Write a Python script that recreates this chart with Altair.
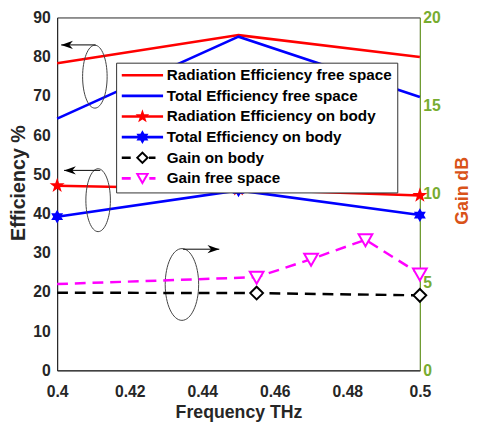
import math
import altair as alt
import pandas as pd

# ---------------- data ----------------
freq = [0.4, 0.45, 0.5]
rad_free = [78.3, 85.5, 79.9]
tot_free = [64.2, 85.1, 69.7]
rad_body = [47.1, 46.2, 44.6]
tot_body = [39.2, 45.9, 39.6]

gain_body_freq = [0.4, 0.455, 0.5]
gain_body = [4.4, 4.38, 4.25]
gain_body_marker = [False, True, True]

gain_free_freq = [0.4, 0.455, 0.47, 0.485, 0.5]
gain_free = [4.89, 5.28, 6.3, 7.4, 5.46]
gain_free_marker = [False, True, True, True, True]

series_names = [
    "Radiation Efficiency free space",
    "Total Efficiency free space",
    "Radiation Efficiency on body",
    "Total Efficiency on body",
    "Gain on body",
    "Gain free space",
]
series_colors = ["#FF0000", "#0000FF", "#FF0000", "#0000FF", "#000000", "#FF00FF"]

x_ticks = [0.4, 0.42, 0.44, 0.46, 0.48, 0.5]
eff_ticks = [0, 10, 20, 30, 40, 50, 60, 70, 80, 90]
gain_ticks = [0, 5, 10, 15, 20]

# annotations (ellipses + arrows), in data units
ell_freq = [0.4104, 0.4113, 0.4344]
ell_eff = [74.9, 43.4, 21.9]
ell_ratio = [0.39, 0.39, 0.466]
ell_height = [64, 64, 73]
arrow_eff = [83.0, 51.0, 30.9]
arrow_from = [0.4106, 0.4119, 0.4347]
arrow_to = [0.4011, 0.4019, 0.4447]
arrow_dir = ["left", "left", "right"]

# ---------------- shapes ----------------
def fmt(pts):
    return "M" + "L".join(f"{x:.3f},{y:.3f}" for x, y in pts) + "Z"

def star_pts(cx, R, r, n):
    pts = []
    for k in range(2 * n):
        a = math.radians(-90 + k * 180 / n)
        rr = R if k % 2 == 0 else r
        pts.append((cx + rr * math.cos(a), rr * math.sin(a)))
    return pts

def star(cx, R, r, n):
    return fmt(star_pts(cx, R, r, n))

def diamond(cx, h):
    return f"M{cx},{-h}L{cx+h},0L{cx},{h}L{cx-h},0Z"

def tri_down(cx, h):
    return f"M{cx-h},{-0.8*h}L{cx+h},{-0.8*h}L{cx},{0.95*h}Z"

def rect(x0, x1, t):
    return fmt([(x0, -t), (x1, -t), (x1, t), (x0, t)])

def diamond_ring(cx, h, w):
    outer = [(cx, -h), (cx + h, 0), (cx, h), (cx - h, 0)]
    hi = h - w * math.sqrt(2)
    inner = [(cx, -hi), (cx - hi, 0), (cx, hi), (cx + hi, 0)]
    return fmt(outer) + fmt(inner)

def tri_ring(cx, h, w):
    outer = [(cx - h, -0.8 * h), (cx + h, -0.8 * h), (cx, 0.95 * h)]
    side = math.hypot(h, 1.75 * h)
    area = 0.5 * 2 * h * 1.75 * h
    rin = area / ((2 * h + 2 * side) / 2)
    ic = (cx, -0.8 * h + rin)
    s = (rin - w) / rin
    inner = [(ic[0] + s * (x - ic[0]), ic[1] + s * (y - ic[1])) for x, y in outer]
    inner = [inner[0], inner[2], inner[1]]
    return fmt(outer) + fmt(inner)

STAR5 = star(0, 1, 0.4, 5)
STAR6 = star(0, 1, 0.577, 6)
DIAM = diamond(0, 1)
TRI = tri_down(0, 1)

LT = 0.19   # half thickness of legend line (units of 7 px)
legend_paths = [
    rect(-1, 5, LT),
    rect(-1, 5, LT),
    rect(-1, 5, LT) + star(2, 1.05, 0.42, 5),
    rect(-1, 5, LT) + star(2, 1, 0.577, 6),
    rect(-1, 0.3, LT) + rect(2.95, 3.9, LT) + diamond_ring(2, 0.95, 0.28),
    rect(-1, 0.3, LT) + rect(3.0, 3.9, LT) + tri_ring(2, 1.0, 0.28),
]

FONT = "Liberation Sans"
DARK = "#262626"
GREEN = "#77AC30"
ORANGE = "#D95319"

eff_df = pd.DataFrame({"f": freq, "rad_free": rad_free, "tot_free": tot_free,
                       "rad_body": rad_body, "tot_body": tot_body})
gb_df = pd.DataFrame({"f": gain_body_freq, "g": gain_body, "m": gain_body_marker})
gf_df = pd.DataFrame({"f": gain_free_freq, "g": gain_free, "m": gain_free_marker})
ell_df = pd.DataFrame({"f": ell_freq, "e": ell_eff, "r": ell_ratio, "h": ell_height})
arr_df = pd.DataFrame({"f": arrow_from, "f2": arrow_to, "e": arrow_eff, "d": arrow_dir})
leg_df = pd.DataFrame({"series": series_names})

xscale = alt.Scale(domain=[0.4, 0.5], nice=False, zero=False)
xaxis = alt.Axis(values=x_ticks, format="~g", title="Frequency THz", labelFlush=False,
                 labelFont=FONT, labelFontSize=16, labelFontWeight="bold", labelColor=DARK,
                 titleFont=FONT, titleFontSize=18, titleFontWeight="bold", titleColor=DARK,
                 domainColor=DARK, ticks=False, grid=False, labelPadding=14, titlePadding=4)
X = alt.X("f:Q", scale=xscale, axis=xaxis)

escale = alt.Scale(domain=[0, 90], nice=False, zero=True)
eaxis = alt.Axis(values=eff_ticks, title="Efficiency %", labelFont=FONT, labelFontSize=16,
                 labelFontWeight="bold", labelColor=DARK, titleFont=FONT, titleFontSize=20,
                 titleFontWeight="bold", titleColor=DARK, domainColor=DARK, ticks=False,
                 grid=False, labelPadding=7, titleX=-39, titleY=168, titleAngle=270,
                 titleAlign="center", titleBaseline="middle")

gscale = alt.Scale(domain=[0, 20], nice=False, zero=True)
gaxis = alt.Axis(values=gain_ticks, title="Gain dB", orient="right", labelFont=FONT,
                 labelFontSize=16, labelFontWeight="bold", labelColor=GREEN, titleFont=FONT,
                 titleFontSize=18, titleFontWeight="bold", titleColor=ORANGE, domainColor=GREEN,
                 ticks=False, grid=False, labelPadding=3, titleX=43, titleY=176,
                 titleAngle=270, titleAlign="center", titleBaseline="middle")

base_e = alt.Chart(eff_df)

def eline(col, color):
    return base_e.mark_line(color=color, strokeWidth=2.6).encode(
        x=X, y=alt.Y(f"{col}:Q", scale=escale, axis=eaxis))

def epts(col, color, shape, size):
    return base_e.mark_point(shape=shape, size=size, filled=True, color=color, opacity=1,
                             strokeWidth=1).encode(
        x=X, y=alt.Y(f"{col}:Q", scale=escale, axis=eaxis))

leg = alt.Legend(orient="none", legendX=60, legendY=46, title=None, labelFont=FONT,
                 labelFontSize=15.5, labelFontWeight="bold", labelColor="#000000",
                 symbolSize=196, symbolStrokeWidth=0, labelOffset=31, rowPadding=4,
                 padding=5, strokeColor="#303030", fillColor="#FFFFFF", symbolOpacity=1,
                 labelLimit=400)

legend_layer = alt.Chart(leg_df).mark_point(size=196, opacity=1, strokeWidth=0,
                                             filled=True).encode(
    fill=alt.Fill("series:N", scale=alt.Scale(domain=series_names, range=series_colors),
                  legend=leg),
    shape=alt.Shape("series:N", scale=alt.Scale(domain=series_names, range=legend_paths),
                    legend=leg),
).transform_filter("datum.series == 'none'")

ann_layers = []
for i in range(len(ell_freq)):
    rx = ell_ratio[i]
    path = f"M0,-1A{rx},1 0 1,1 0,1A{rx},1 0 1,1 0,-1Z"
    ann_layers.append(
        alt.Chart(ell_df).transform_filter(f"datum.f == {ell_freq[i]}").mark_point(
            shape=path, size=ell_height[i] ** 2, filled=False, stroke="#404040",
            strokeWidth=1, opacity=1).encode(
            x=X, y=alt.Y("e:Q", scale=escale, axis=eaxis)))
ann_layers.append(
    alt.Chart(arr_df).mark_rule(color="#000000", strokeWidth=1).encode(
        x=X, x2="f2:Q", y=alt.Y("e:Q", scale=escale, axis=eaxis)))
head_left = "M0,0L2,-0.7L1.4,0L2,0.7Z"
head_right = "M0,0L-2,-0.7L-1.4,0L-2,0.7Z"
for d, p in [("left", head_left), ("right", head_right)]:
    ann_layers.append(
        alt.Chart(arr_df).transform_filter(f"datum.d == '{d}'").mark_point(
            shape=p, size=144, filled=True, color="#000000", opacity=1, strokeWidth=0.5).encode(
            x=alt.X("f2:Q", scale=xscale, axis=xaxis),
            y=alt.Y("e:Q", scale=escale, axis=eaxis)))

left = alt.layer(
    eline("rad_free", "#FF0000"),
    eline("tot_free", "#0000FF"),
    eline("rad_body", "#FF0000"),
    epts("rad_body", "#FF0000", STAR5, 256),
    eline("tot_body", "#0000FF"),
    epts("tot_body", "#0000FF", STAR6, 196),
    *ann_layers,
    legend_layer,
)

GY = alt.Y("g:Q", scale=gscale, axis=gaxis)
right = alt.layer(
    alt.Chart(gb_df).mark_line(color="#000000", strokeWidth=2.5, strokeDash=[11, 7]).encode(
        x=X, y=GY),
    alt.Chart(gb_df).transform_filter("datum.m").mark_point(
        shape=DIAM, size=169, filled=True, fill="#FFFFFF", stroke="#000000",
        strokeWidth=2, opacity=1).encode(x=X, y=GY),
    alt.Chart(gf_df).mark_line(color="#FF00FF", strokeWidth=2.5, strokeDash=[11, 7]).encode(
        x=X, y=GY),
    alt.Chart(gf_df).transform_filter("datum.m").mark_point(
        shape=TRI, size=196, filled=True, fill="#FFFFFF", stroke="#FF00FF",
        strokeWidth=2, opacity=1).encode(x=X, y=GY),
)

chart = alt.layer(left, right).resolve_scale(y="independent").properties(
    width=369, height=359,
    padding={"left": 50, "top": 6, "right": 51, "bottom": 54},
    autosize=alt.AutoSizeParams(type="none"),
    background="#FFFFFF",
).configure_view(stroke=DARK, strokeWidth=1)

chart.save("out.html", embed_options={"renderer": "svg", "actions": False})
